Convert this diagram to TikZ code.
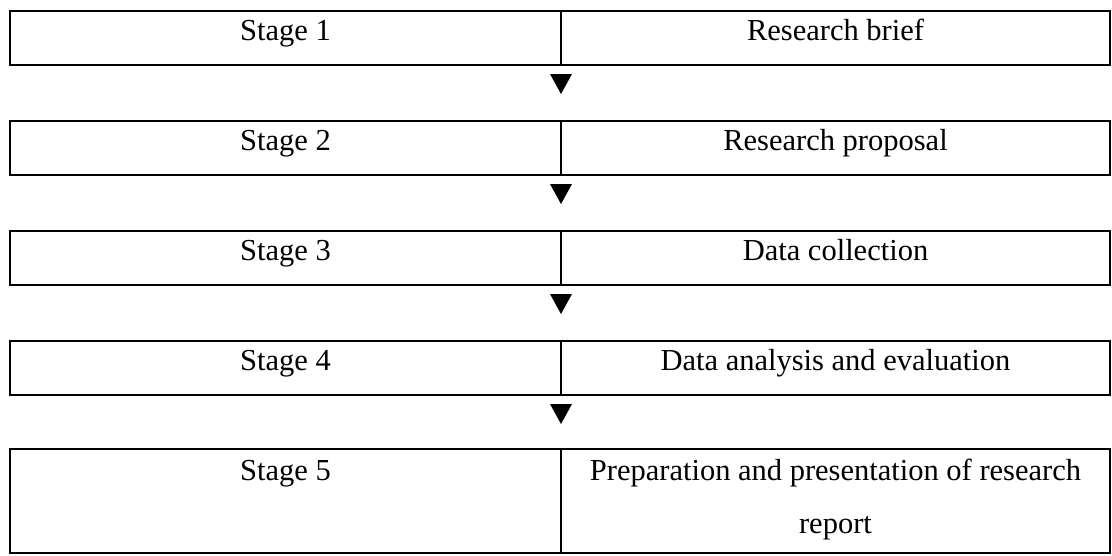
\documentclass[tikz,border=0pt]{standalone}
\usepackage{fontspec}
\setmainfont{Liberation Serif}
\usetikzlibrary{positioning,calc}
\tikzset{
  cellbox/.style={draw=black, line width=2pt, inner sep=0pt, outer sep=0pt, align=flush center, font=\fontsize{30.5}{53}\selectfont, text height=29pt, text depth=25pt},
  stagecell/.style={cellbox, minimum width=551pt, text width=551pt},
  taskcell/.style={cellbox, minimum width=549pt, text width=549pt},
  tallcell/.style={text height=31pt, text depth=73pt},
  downmark/.style={fill=black}
}

\begin{document}
\begin{tikzpicture}[x=1pt,y=1pt]
\useasboundingbox (0,0) rectangle (1112,-555);
% stages and tasks
\node[stagecell] (s1) at (285.5,-38) {Stage 1};
\node[taskcell, right=0pt of s1] (t1) {Research brief};
\node[stagecell, below=56pt of s1] (s2) {Stage 2};
\node[taskcell, right=0pt of s2] (t2) {Research proposal};
\node[stagecell, below=56pt of s2] (s3) {Stage 3};
\node[taskcell, right=0pt of s3] (t3) {Data collection};
\node[stagecell, below=56pt of s3] (s4) {Stage 4};
\node[taskcell, right=0pt of s4] (t4) {Data analysis and evaluation};
\node[stagecell, tallcell, below=54pt of s4] (s5) {Stage 5};
\node[taskcell, tallcell, right=0pt of s5] (t5) {Preparation and presentation of research\\report};
% down markers
\foreach \i in {1,2,3,4}
  \fill[downmark] ($(s\i.south east)+(-11,-9)$) -- ++(22,0) -- ++(-11,-20) -- cycle;
\end{tikzpicture}
\end{document}
